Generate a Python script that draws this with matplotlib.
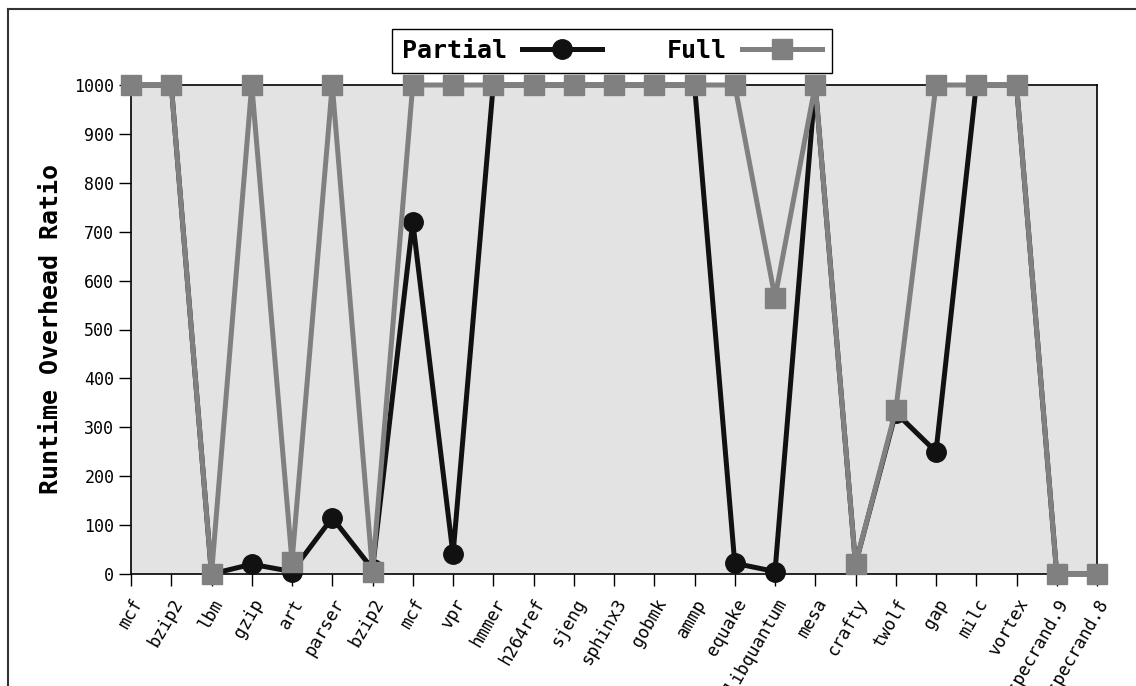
import numpy as np
import matplotlib
matplotlib.use('Agg')
import matplotlib.pyplot as plt
from matplotlib.lines import Line2D

# --- data
benchmarks = ['mcf', 'bzip2', 'lbm', 'gzip', 'art', 'parser', 'bzip2', 'mcf',
              'vpr', 'hmmer', 'h264ref', 'sjeng', 'sphinx3', 'gobmk', 'ammp',
              'equake', '462.libquantum', 'mesa', 'crafty', 'twolf', 'gap',
              'milc', 'vortex', '999.specrand.9', '999.specrand.8']
partial = [1000, 1000, 0, 20, 5, 115, 10, 720, 40, 1000, 1000, 1000, 1000,
           1000, 1000, 22, 5, 1000, 20, 330, 250, 1000, 1000, 0, 0]
full = [1000, 1000, 0, 1000, 25, 1000, 5, 1000, 1000, 1000, 1000, 1000, 1000,
        1000, 1000, 1000, 565, 1000, 20, 335, 1000, 1000, 1000, 0, 0]
yticks = list(range(0, 1001, 100))

plt.rcParams['font.family'] = 'DejaVu Sans Mono'

fig = plt.figure(figsize=(11.36, 6.86), dpi=100)
ax = fig.add_axes([131/1136, 1 - 574/686, (1097 - 131)/1136, (574 - 85)/686])
ax.set_facecolor('#e3e3e3')

x = np.arange(len(benchmarks))
ax.plot(x, partial, color='#111111', lw=3.6, marker='o', ms=14,
        clip_on=False, zorder=3, label='Partial')
ax.plot(x, full, color='#808080', lw=3.6, marker='s', ms=14,
        clip_on=False, zorder=4, label='Full')

ax.set_xlim(0, len(benchmarks) - 1)
ax.set_ylim(0, 1000)
ax.set_xticks(x)
ax.set_xticklabels(benchmarks, rotation=60, ha='right', rotation_mode='anchor',
                   fontsize=12.5)
ax.set_yticks(yticks)
ax.tick_params(axis='y', labelsize=12, length=8.5, width=1, direction='out')
ax.tick_params(axis='x', length=8.5, width=1, direction='out', pad=7)
ax.set_ylabel('Runtime Overhead Ratio', fontsize=18, fontweight='bold', labelpad=8)
for s in ax.spines.values():
    s.set_linewidth(1.2)

# legend: text first, handle after
fig.legend(loc='center', bbox_to_anchor=(612/1136, 1 - 50.5/686), ncol=2,
           markerfirst=False, handlelength=3.2, columnspacing=2.6,
           prop={'weight': 'bold', 'size': 18}, frameon=True, fancybox=False,
           edgecolor='black', framealpha=1, borderpad=0.4, handletextpad=0.6)

# outer frame (runs off right and bottom edges)
x0 = 8/1136
y0 = 1 - 9/686
fig.add_artist(Line2D([x0, 1.01], [y0, y0], color='#333333', lw=1.5,
                      transform=fig.transFigure))
fig.add_artist(Line2D([x0, x0], [y0, -0.01], color='#333333', lw=1.5,
                      transform=fig.transFigure))

fig.savefig('out.png', dpi=100)
